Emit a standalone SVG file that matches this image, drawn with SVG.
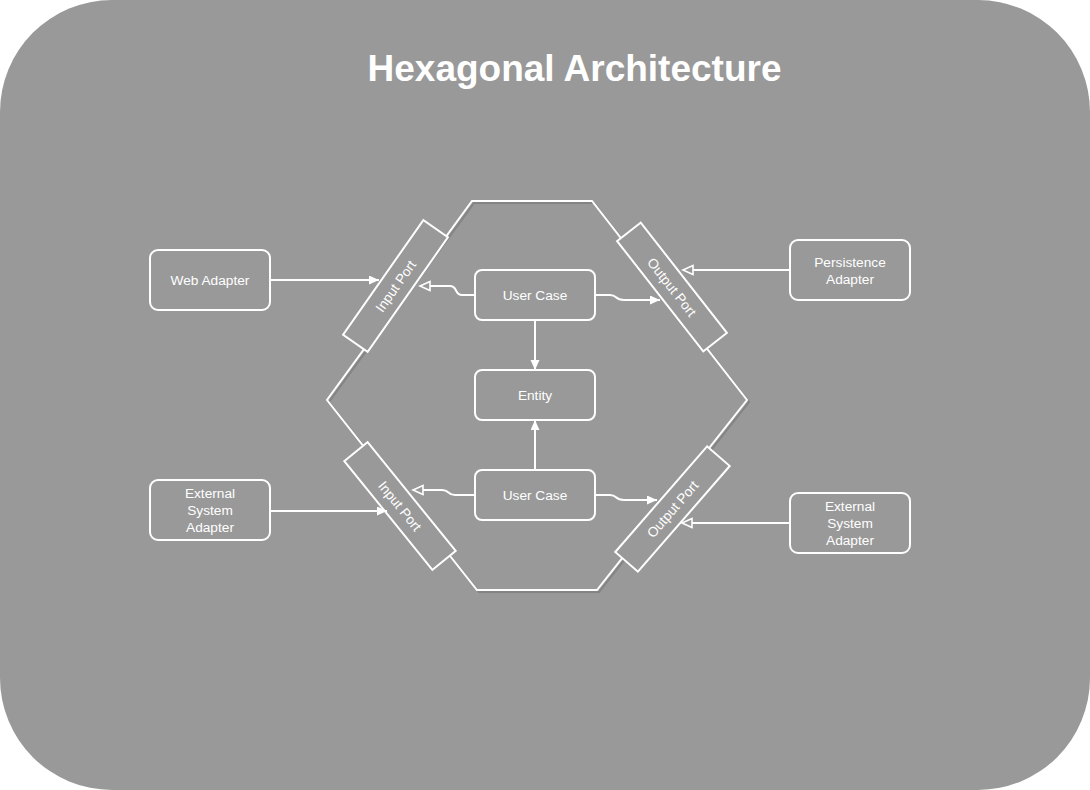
<svg xmlns="http://www.w3.org/2000/svg" width="1090" height="790" viewBox="0 0 1090 790">
<defs>
<style>
.box{fill:#999999;stroke:#ffffff;stroke-width:2}
.lbl{font-family:"Liberation Sans",Arial,sans-serif;font-size:13.7px;fill:#ffffff;text-anchor:middle}
.edge{fill:none;stroke:#ffffff;stroke-width:2}
</style>
<marker id="af" markerUnits="userSpaceOnUse" markerWidth="12" markerHeight="10" refX="10" refY="4.5" orient="auto" viewBox="0 0 12 10"><path d="M0,0 L10,4.5 L0,9 Z" fill="#ffffff"/></marker>
<marker id="ah" markerUnits="userSpaceOnUse" markerWidth="14" markerHeight="12" refX="11" refY="5.5" orient="auto" viewBox="0 0 14 12"><path d="M1,1 L11,5.5 L1,10 Z" fill="#999999" stroke="#ffffff" stroke-width="1.6"/></marker>
</defs>
<rect x="0" y="0" width="1090" height="790" rx="112" ry="112" fill="#999999"/>
<text x="574.5" y="81" font-family="'Liberation Sans',Arial,sans-serif" font-size="37" font-weight="bold" fill="#ffffff" text-anchor="middle">Hexagonal Architecture</text>
<g id="hexagon">
<polygon points="474,203 594,203 749,402 599,592 479,592 329,402" fill="none" stroke="#777777" stroke-width="2" opacity="0.6"/>
<polygon points="472,201 592,201 747,400 597,590 477,590 327,400" fill="none" stroke="#ffffff" stroke-width="2"/>
</g>
<g id="input-port-top"><g transform="translate(395.5,286) rotate(-55)"><rect class="box" x="-70" y="-15" width="140" height="30"/><text class="lbl" x="0" y="5">Input Port</text></g></g>
<g id="output-port-top"><g transform="translate(672,287) rotate(52)"><rect class="box" x="-70" y="-15" width="140" height="30"/><text class="lbl" x="0" y="5">Output Port</text></g></g>
<g id="input-port-bottom"><g transform="translate(400,506) rotate(51)"><rect class="box" x="-70" y="-15" width="140" height="30"/><text class="lbl" x="0" y="5">Input Port</text></g></g>
<g id="output-port-bottom"><g transform="translate(672.5,509) rotate(-49)"><rect class="box" x="-70" y="-15" width="140" height="30"/><text class="lbl" x="0" y="5">Output Port</text></g></g>
<g id="user-case-top"><rect class="box" x="475" y="270" width="120" height="50" rx="7"/><text class="lbl" x="535" y="300">User Case</text></g>
<g id="entity"><rect class="box" x="475" y="370" width="120" height="50" rx="7"/><text class="lbl" x="535" y="400">Entity</text></g>
<g id="user-case-bottom"><rect class="box" x="475" y="470" width="120" height="50" rx="7"/><text class="lbl" x="535" y="500">User Case</text></g>
<g id="web-adapter"><rect class="box" x="150" y="250" width="120" height="60" rx="8"/><text class="lbl" x="210" y="285">Web Adapter</text></g>
<g id="persistence-adapter"><rect class="box" x="790" y="240" width="120" height="60" rx="8"/><text class="lbl" x="850" y="267">Persistence</text><text class="lbl" x="850" y="284">Adapter</text></g>
<g id="external-left"><rect class="box" x="150" y="480" width="120" height="60" rx="8"/><text class="lbl" x="210" y="498">External</text><text class="lbl" x="210" y="515">System</text><text class="lbl" x="210" y="532">Adapter</text></g>
<g id="external-right"><rect class="box" x="790" y="493" width="120" height="60" rx="8"/><text class="lbl" x="850" y="511">External</text><text class="lbl" x="850" y="528">System</text><text class="lbl" x="850" y="545">Adapter</text></g>
<g id="connectors">
<path class="edge" d="M270,280 L379,280" marker-end="url(#af)"/>
<path class="edge" d="M790,270 L683,270" marker-end="url(#ah)"/>
<path class="edge" d="M475,295 L462,295 C454,295 458,286 450,286 L420,286" marker-end="url(#ah)"/>
<path class="edge" d="M595,295 L610,295 C618,295 614,300 624,300 L660,300" marker-end="url(#af)"/>
<path class="edge" d="M535,320 L535,370" marker-end="url(#af)"/>
<path class="edge" d="M535,470 L535,420" marker-end="url(#af)"/>
<path class="edge" d="M475,495 L455,495 C447,495 450,490 442,490 L413,490" marker-end="url(#ah)"/>
<path class="edge" d="M595,495 L610,495 C618,495 614,500 624,500 L657,500" marker-end="url(#af)"/>
<path class="edge" d="M270,511 L387,511" marker-end="url(#af)"/>
<path class="edge" d="M790,523 L682,523" marker-end="url(#ah)"/>
</g>
</svg>
